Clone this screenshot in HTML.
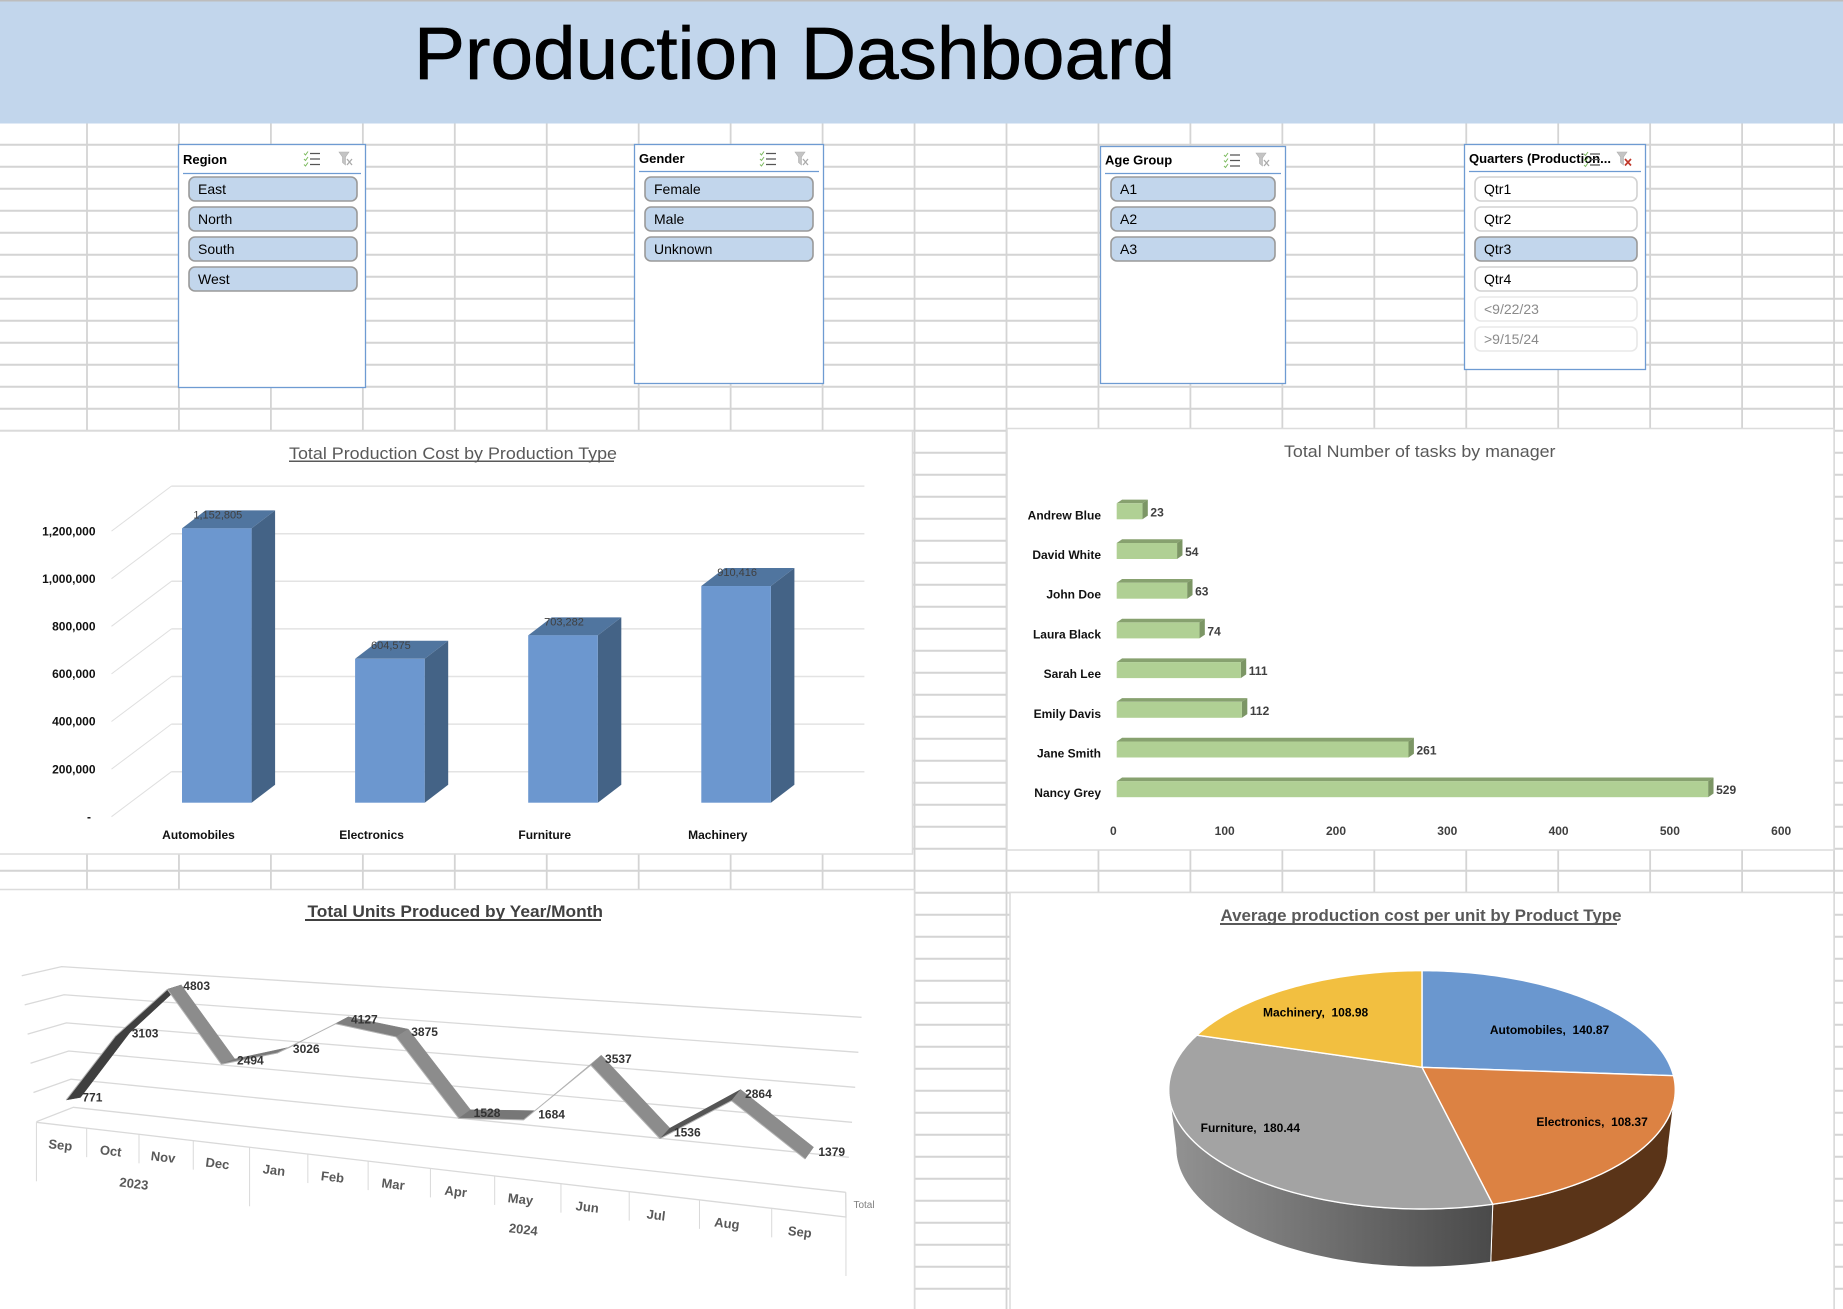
<!DOCTYPE html>
<html lang="en">
<head>
<meta charset="utf-8">
<title>Production Dashboard</title>
<style>
html,body{margin:0;padding:0;background:#fff;width:1843px;height:1309px;overflow:hidden}
svg{display:block;font-family:"Liberation Sans",sans-serif}
.ttl{font-size:13px;font-weight:bold;fill:#000}
.itm{font-size:14px;fill:#000}
.off{font-size:14px;fill:#8a8a8a}
.on-btn{fill:#c2d6ec;stroke:#9a9a9a;stroke-width:1.6}
.idle-btn{fill:#fff;stroke:#d2d2d2;stroke-width:1.6}
.none-btn{fill:#fff;stroke:#e8e8e8;stroke-width:1.6}
.frame{fill:#fff;stroke:#6e9bd2;stroke-width:1.3}
.rule{stroke:#6e9bd2;stroke-width:1.3}
.panel{fill:#fff;stroke:#dcdcdc;stroke-width:1.5}
</style>
</head>
<body>
<svg id="dash" xmlns="http://www.w3.org/2000/svg" width="1843" height="1309" viewBox="0 0 1843 1309">
<defs>
  <linearGradient id="furnitureSide" gradientUnits="userSpaceOnUse" x1="1168" y1="0" x2="1492" y2="0">
    <stop offset="0" stop-color="#939393"/><stop offset="1" stop-color="#4a4a4a"/>
  </linearGradient>
  <g id="icon-multi">
    <path d="M0 2l1.5 1.5L4 0M0 7.5l1.5 1.5L4 5.5M0 13l1.5 1.5L4 11" fill="none" stroke="#7dbb5f" stroke-width="1"/>
    <path d="M6 2h10M6 7.5h10M6 13h10" stroke="#555" stroke-width="1.2"/>
  </g>
  <g id="icon-clear">
    <path d="M0 0h10L6.5 5v8L3.500 10.500V5z" fill="#c4c4c4" stroke="#b0b0b0" stroke-width=".6"/>
  </g>
</defs>

<rect x="0" y="0" width="1843" height="1309" fill="#fff"/>
<g id="sheetGrid"></g>

<rect x="0" y="0" width="1843" height="123.500" fill="#c2d6ec"/>
<rect x="0" y="0" width="1843" height="1.500" fill="#bdbdbd"/>
<text x="414" y="79" font-size="74" textLength="761" lengthAdjust="spacingAndGlyphs" fill="#000" stroke="#000" stroke-width=".7">Production Dashboard</text>

<g>
  <rect class="frame" x="178.500" y="144.500" width="187" height="243"/>
  <text class="ttl" x="183" y="164">Region</text>
  <use href="#icon-multi" x="304" y="151.500"/>
  <use href="#icon-clear" x="339" y="152"/>
  <path d="M347 159l5 6M352 159l-5 6" stroke="#aaa" stroke-width="1.300"/>
  <line class="rule" x1="183" y1="173.500" x2="361" y2="173.500"/>
  <g><rect class="on-btn" x="189" y="177" width="168" height="24" rx="6"/><text class="itm" x="198" y="194">East</text></g>
  <g><rect class="on-btn" x="189" y="207" width="168" height="24" rx="6"/><text class="itm" x="198" y="224">North</text></g>
  <g><rect class="on-btn" x="189" y="237" width="168" height="24" rx="6"/><text class="itm" x="198" y="254">South</text></g>
  <g><rect class="on-btn" x="189" y="267" width="168" height="24" rx="6"/><text class="itm" x="198" y="284">West</text></g>
</g>

<g>
  <rect class="frame" x="634.500" y="144.500" width="189" height="239"/>
  <text class="ttl" x="639" y="163">Gender</text>
  <use href="#icon-multi" x="760" y="151.500"/>
  <use href="#icon-clear" x="795" y="152"/>
  <path d="M803 159l5 6M808 159l-5 6" stroke="#aaa" stroke-width="1.300"/>
  <line class="rule" x1="639" y1="171.500" x2="819" y2="171.500"/>
  <g><rect class="on-btn" x="645" y="177" width="168" height="24" rx="6"/><text class="itm" x="654" y="194">Female</text></g>
  <g><rect class="on-btn" x="645" y="207" width="168" height="24" rx="6"/><text class="itm" x="654" y="224">Male</text></g>
  <g><rect class="on-btn" x="645" y="237" width="168" height="24" rx="6"/><text class="itm" x="654" y="254">Unknown</text></g>
</g>

<g>
  <rect class="frame" x="1100.500" y="146.500" width="185" height="237"/>
  <text class="ttl" x="1105" y="164.500">Age Group</text>
  <use href="#icon-multi" x="1224" y="153"/>
  <use href="#icon-clear" x="1256" y="153"/>
  <path d="M1264 160l5 6M1269 160l-5 6" stroke="#aaa" stroke-width="1.300"/>
  <line class="rule" x1="1105" y1="173.500" x2="1281" y2="173.500"/>
  <g><rect class="on-btn" x="1111" y="177" width="164" height="24" rx="6"/><text class="itm" x="1120" y="194">A1</text></g>
  <g><rect class="on-btn" x="1111" y="207" width="164" height="24" rx="6"/><text class="itm" x="1120" y="224">A2</text></g>
  <g><rect class="on-btn" x="1111" y="237" width="164" height="24" rx="6"/><text class="itm" x="1120" y="254">A3</text></g>
</g>

<g>
  <rect class="frame" x="1464.500" y="144.500" width="181" height="225"/>
  <text class="ttl" x="1469" y="163" textLength="142" lengthAdjust="spacingAndGlyphs">Quarters (Production...</text>
  <use href="#icon-multi" x="1584" y="152"/>
  <use href="#icon-clear" x="1617" y="152"/>
  <path d="M1625 159l6 6.500M1631 159l-6 6.500" stroke="#c0392b" stroke-width="1.700"/>
  <line class="rule" x1="1469" y1="171.500" x2="1641" y2="171.500"/>
  <g><rect class="idle-btn" x="1475" y="177" width="162" height="24" rx="6"/><text class="itm" x="1484" y="194">Qtr1</text></g>
  <g><rect class="idle-btn" x="1475" y="207" width="162" height="24" rx="6"/><text class="itm" x="1484" y="224">Qtr2</text></g>
  <g><rect class="on-btn" x="1475" y="237" width="162" height="24" rx="6"/><text class="itm" x="1484" y="254">Qtr3</text></g>
  <g><rect class="idle-btn" x="1475" y="267" width="162" height="24" rx="6"/><text class="itm" x="1484" y="284">Qtr4</text></g>
  <g><rect class="none-btn" x="1475" y="297" width="162" height="24" rx="6"/><text class="off" x="1484" y="314">&lt;9/22/23</text></g>
  <g><rect class="none-btn" x="1475" y="327" width="162" height="24" rx="6"/><text class="off" x="1484" y="344">&gt;9/15/24</text></g>
</g>

<g>
  <rect class="panel" x="-2" y="431" width="914.500" height="423"/>
  <text x="289" y="459" font-size="17" textLength="328" lengthAdjust="spacingAndGlyphs" fill="#595959">Total Production Cost by Production Type</text>
  <rect x="289" y="460.500" width="325" height="1.500" fill="#595959"/>
  <g id="costChart"></g>
</g>

<g>
  <rect class="panel" x="1007" y="428.500" width="827" height="421.500"/>
  <text x="1284" y="457" font-size="17" textLength="271.500" lengthAdjust="spacingAndGlyphs" fill="#595959">Total Number of tasks by manager</text>
  <g id="taskChart"></g>
</g>

<g>
  <rect class="panel" x="-2" y="889.500" width="916.500" height="422"/>
  <text x="307.500" y="917" font-size="17" font-weight="bold" textLength="295.500" lengthAdjust="spacingAndGlyphs" fill="#404040">Total Units Produced by Year/Month</text>
  <rect x="305" y="919" width="296" height="2" fill="#404040"/>
  <g id="unitChart"></g>
</g>

<g>
  <rect class="panel" x="1010" y="892.500" width="824" height="419"/>
  <text x="1220.500" y="921" font-size="17" font-weight="bold" textLength="401" lengthAdjust="spacingAndGlyphs" fill="#595959">Average production cost per unit by Product Type</text>
  <rect x="1220" y="923" width="397" height="2" fill="#595959"/>
  <g id="pieChart"></g>
</g>
</svg>

<script>
/* ---------- chart data ---------- */
const productTypes = ['Automobiles', 'Electronics', 'Furniture', 'Machinery'];
const productionCost = [1152805, 604575, 703282, 910416];
const costTicks = [0, 200000, 400000, 600000, 800000, 1000000, 1200000];
const costTickLabels = ['-', '200,000', '400,000', '600,000', '800,000', '1,000,000', '1,200,000'];

const managers = ['Andrew Blue', 'David White', 'John Doe', 'Laura Black', 'Sarah Lee', 'Emily Davis', 'Jane Smith', 'Nancy Grey'];
const taskCounts = [23, 54, 63, 74, 111, 112, 261, 529];
const taskTicks = [0, 100, 200, 300, 400, 500, 600];

const months = ['Sep', 'Oct', 'Nov', 'Dec', 'Jan', 'Feb', 'Mar', 'Apr', 'May', 'Jun', 'Jul', 'Aug', 'Sep'];
const monthYears = ['2023', '2023', '2023', '2023', '2024', '2024', '2024', '2024', '2024', '2024', '2024', '2024', '2024'];
const unitsProduced = [771, 3103, 4803, 2494, 3026, 4127, 3875, 1528, 1684, 3537, 1536, 2864, 1379];
const unitTicks = [0, 1000, 2000, 3000, 4000, 5000];

const pieTypes = ['Automobiles', 'Electronics', 'Furniture', 'Machinery'];
const pieValues = [140.87, 108.37, 180.44, 108.98];

/* ---------- helper ---------- */
const NS = 'http://www.w3.org/2000/svg';
function add(parent, tag, attrs, txt) {
  const n = document.createElementNS(NS, tag);
  for (const k in attrs) n.setAttribute(k, attrs[k]);
  if (txt !== undefined) n.textContent = txt;
  parent.appendChild(n);
  return n;
}
function pts(a) { return a.map(p => p[0].toFixed(2) + ',' + p[1].toFixed(2)).join(' '); }

/* ---------- worksheet grid ---------- */
(function () {
  const g = document.getElementById('sheetGrid');
  for (let k = 0; k < 20; k++) {
    const x = 87 + 91.95 * k;
    const l = add(g, 'line', { x1: x, y1: 123, x2: x, y2: 1309, stroke: '#d4d4d4', 'stroke-width': 1.8 });
    
    
  }
  for (let y = 144.7; y < 1309; y += 22) {
    const l = add(g, 'line', { x1: 0, y1: y, x2: 1843, y2: y, stroke: '#d4d4d4', 'stroke-width': 2 });
    
    
  }
})();

/* ---------- column chart ---------- */
(function () {
  const g = document.getElementById('costChart');
  const unit = 47.6 / 200000;
  const yFront = v => 816.7 - v * unit;
  const yBack = v => 771.7 - v * unit;
  const yBar = v => 802.7 - v * unit;
  const xBar = i => 182 + 173.1 * i;
  const barW = 69.6, dx = 23.5, dy = 18;

  costTicks.forEach((t, i) => {
    const side = add(g, 'line', { x1: 111.5, y1: yFront(t), x2: 171.4, y2: yBack(t), stroke: '#dfdfdf', 'stroke-width': 1 });
    
    
    const back = add(g, 'line', { x1: 171.4, y1: yBack(t), x2: 864.4, y2: yBack(t), stroke: '#e3e3e3', 'stroke-width': 1.5 });
    
    
    const lab = add(g, 'text', { x: t === 0 ? 91 : 95.5, y: yFront(t) + 4.2, 'text-anchor': 'end', 'font-size': 12, 'font-weight': 'bold', fill: '#111' }, costTickLabels[i]);
    
    
  });

  productionCost.forEach((v, i) => {
    const x = xBar(i), top = yBar(v), base = yBar(0);
    const sidePoly = add(g, 'polygon', { points: pts([[x + barW, top], [x + barW + dx, top - dy], [x + barW + dx, base - dy], [x + barW, base]]), fill: '#446386' });
    
    
    const topPoly = add(g, 'polygon', { points: pts([[x, top], [x + dx, top - dy], [x + barW + dx, top - dy], [x + barW, top]]), fill: '#50759f' });
    
    
    const front = add(g, 'rect', { x: x, y: top, width: barW, height: base - top, fill: '#6c97cf' });
    
    
    const val = add(g, 'text', { x: x + barW / 2 + 1, y: top - 10, 'text-anchor': 'middle', 'font-size': 11, fill: '#404040' }, v.toLocaleString('en-US'));
    
    
    const cat = add(g, 'text', { x: x + 16.5, y: 839, 'text-anchor': 'middle', 'font-size': 12, 'font-weight': 'bold', fill: '#111' }, productTypes[i]);
    
    
  });
})();

/* ---------- horizontal bars ---------- */
(function () {
  const g = document.getElementById('taskChart');
  const xBar = v => 1116.7 + v * 1.118;
  const xTick = v => 1113.4 + v * 1.113;
  const yBar = i => 503.3 + 39.7 * i;
  const barH = 16, dx = 5.4, dy = 3.7;

  taskTicks.forEach(t => {
    const lab = add(g, 'text', { x: xTick(t), y: 835, 'text-anchor': 'middle', 'font-size': 12, 'font-weight': 'bold', fill: '#404040' }, String(t));
    
    
  });

  taskCounts.forEach((v, i) => {
    const x0 = xBar(0), x1 = xBar(v), y = yBar(i);
    const topPoly = add(g, 'polygon', { points: pts([[x0, y], [x0 + dx, y - dy], [x1 + dx, y - dy], [x1, y]]), fill: '#87a16f' });
    
    
    const sidePoly = add(g, 'polygon', { points: pts([[x1, y], [x1 + dx, y - dy], [x1 + dx, y + barH - dy], [x1, y + barH]]), fill: '#7c9665' });
    
    
    const front = add(g, 'rect', { x: x0, y: y, width: x1 - x0, height: barH, fill: '#b0d094' });
    
    
    const val = add(g, 'text', { x: x1 + 8, y: y + 13, 'font-size': 12, 'font-weight': 'bold', fill: '#404040' }, String(v));
    
    
    const cat = add(g, 'text', { x: 1101, y: y + 16, 'text-anchor': 'end', 'font-size': 12, 'font-weight': 'bold', fill: '#111' }, managers[i]);
    
    
  });
})();

/* ---------- 3-D ribbon line ---------- */
(function () {
  const g = document.getElementById('unitChart');
  const px = i => 73.36 + 48.3 * i + 1.086 * i * i;
  const py = (i, v) => 1121.3 + 0.1079 * (px(i) - 73.36) - v * (0.02933 + 0.000433 * i);
  const boundaryX = b => 36.4 + 49.3 * b + 0.998 * b * b;
  const boundaryY = x => 1122.3 + (x - 36.4) * 0.117;
  const labelX = i => 60.4 + 49.3 * i + 1.027 * i * i;
  const labelY = x => 1145 + (x - 60.4) * 0.1176;
  const tilt = 6.7;
  const depthLen = 14.5;
  /* depth direction swings with perspective along the category axis */
  const depthAt = i => {
    const a = (10 + 3.7 * i) * Math.PI / 180;
    return [depthLen * Math.cos(a) / 2, -depthLen * Math.sin(a) / 2];
  };
  const ribbonShades = ['#3f3f3f', '#3f3f3f', '#8c8c8c', '#7a7a7a', '#a0a0a0', '#7f7f7f', '#8c8c8c', '#777777', '#a8a8a8', '#8c8c8c', '#555555', '#8c8c8c'];

  unitTicks.forEach(t => {
    const j = t / 1000;
    const a = [36.4 - 2.93 * j, 1121.7 - 29.2 * j];
    const b = [73.4 - 2.35 * j, 1107.3 - 28.13 * j];
    const c = [845.7 + 3.17 * j, 1192.3 - 35 * j];
    const l = add(g, 'polyline', { points: pts([a, b, c]), fill: 'none', stroke: '#d9d9d9', 'stroke-width': 1.3 });
    
    
  });

  const edge = add(g, 'polyline', { points: pts([[boundaryX(0), boundaryY(boundaryX(0))], [boundaryX(months.length), boundaryY(boundaryX(months.length))], [845.7, 1192.3]]), fill: 'none', stroke: '#d9d9d9', 'stroke-width': 1.3 });
  
  

  for (let b = 0; b <= months.length; b++) {
    const x = boundaryX(b), y = boundaryY(x);
    const isGroupEdge = b === 0 || b === months.length || monthYears[b] !== monthYears[b - 1];
    const d = add(g, 'line', { x1: x, y1: y, x2: x, y2: y + (isGroupEdge ? 59 : 29), stroke: '#d9d9d9', 'stroke-width': 1 });
    
    
  }

  months.forEach((m, i) => {
    const x = labelX(i), y = labelY(x);
    const t = add(g, 'text', { x: x, y: y + 4.5, 'text-anchor': 'middle', 'font-size': 13, 'font-weight': 'bold', fill: '#595959', transform: 'rotate(' + tilt + ' ' + x.toFixed(1) + ' ' + y.toFixed(1) + ')' }, m);
    
    
  });

  [...new Set(monthYears)].forEach(yr => {
    const idx = monthYears.map((v, i) => v === yr ? i : -1).filter(i => i >= 0);
    const x = idx.reduce((s, i) => s + labelX(i), 0) / idx.length - 4;
    const y = labelY(x) + 30;
    const t = add(g, 'text', { x: x, y: y + 4.5, 'text-anchor': 'middle', 'font-size': 13, 'font-weight': 'bold', fill: '#595959', transform: 'rotate(' + tilt + ' ' + x.toFixed(1) + ' ' + y.toFixed(1) + ')' }, yr);
    
    
  });

  const tot = add(g, 'text', { x: 864, y: 1208, 'text-anchor': 'middle', 'font-size': 10, fill: '#7f7f7f' }, 'Total');
  
  

  for (let i = 0; i < unitsProduced.length - 1; i++) {
    const a = [px(i), py(i, unitsProduced[i])], b = [px(i + 1), py(i + 1, unitsProduced[i + 1])];
    const da = depthAt(i), db = depthAt(i + 1);
    const shade = ribbonShades[i % ribbonShades.length];
    const s = add(g, 'polygon', { points: pts([[a[0] - da[0], a[1] - da[1]], [b[0] - db[0], b[1] - db[1]], [b[0] + db[0], b[1] + db[1]], [a[0] + da[0], a[1] + da[1]]]), fill: shade, stroke: shade, 'stroke-width': 0.5 });
    
    
    const e = add(g, 'line', { x1: a[0] - da[0], y1: a[1] - da[1], x2: b[0] - db[0], y2: b[1] - db[1], stroke: '#b5b5b5', 'stroke-width': 1 });
    
    
  }

  unitsProduced.forEach((v, i) => {
    const t = add(g, 'text', { x: px(i) + 9, y: py(i, v) + 3, 'font-size': 12, 'font-weight': 'bold', fill: '#333' }, String(v));
    
    
  });
})();

/* ---------- perspective pie ---------- */
(function () {
  const g = document.getElementById('pieChart');
  const cx = 1422, persp = -0.189;
  function project(r, deg) {
    const th = deg * Math.PI / 180, u = r * Math.sin(th), v = -r * Math.cos(th), den = 1 + persp * v;
    return [cx + 248.7 * u / den, (1067.3 - 86.8 * v) / den];
  }
  const lower = p => [cx + (p[0] - cx) * 0.972, p[1] + 58];
  const total = pieValues.reduce((a, b) => a + b, 0);
  const topFills = ['#6a97cf', '#dc8243', '#a3a3a3', '#f2bf40'];
  const sideFills = ['#3f5f88', '#5a3418', 'url(#furnitureSide)', '#a07c28'];
  const labelNudgeX = [10.6, 25, -32, -13];
  const labelNudgeY = [13, -2.4, 0, 3.5];
  /* silhouette tangent angles of the projected rim */
  const sideFrom = 101, sideTo = 259;

  let start = 0;
  const spans = pieValues.map(v => {
    const s = { a: start, b: start + v / total * 360 };
    start = s.b;
    return s;
  });

  spans.forEach((s, i) => {
    const lo = Math.max(s.a, sideFrom), hi = Math.min(s.b, sideTo);
    if (lo >= hi) return;
    const upper = [], under = [];
    for (let d = lo; d < hi; d += 1) { const p = project(1, d); upper.push(p); under.unshift(lower(p)); }
    const endP = project(1, hi); upper.push(endP); under.unshift(lower(endP));
    const side = add(g, 'polygon', { points: pts(upper.concat(under)), fill: sideFills[i], stroke: '#fff', 'stroke-width': 1 });
    
    
  });

  spans.forEach((s, i) => {
    const poly = [project(0, 0)];
    for (let d = s.a; d < s.b; d += 1) poly.push(project(1, d));
    poly.push(project(1, s.b));
    const slice = add(g, 'polygon', { points: pts(poly), fill: topFills[i], stroke: '#fff', 'stroke-width': 1.4, 'stroke-linejoin': 'round' });
    
    
  });

  spans.forEach((s, i) => {
    const p = project(0.7, (s.a + s.b) / 2);
    const t = add(g, 'text', { x: p[0] + labelNudgeX[i], y: p[1] + 4 + labelNudgeY[i], 'text-anchor': 'middle', 'font-size': 12, 'font-weight': 'bold', fill: '#000', style: 'white-space:pre' }, pieTypes[i] + ',  ' + pieValues[i].toFixed(2));
    
    
  });
})();
</script>
</body>
</html>
